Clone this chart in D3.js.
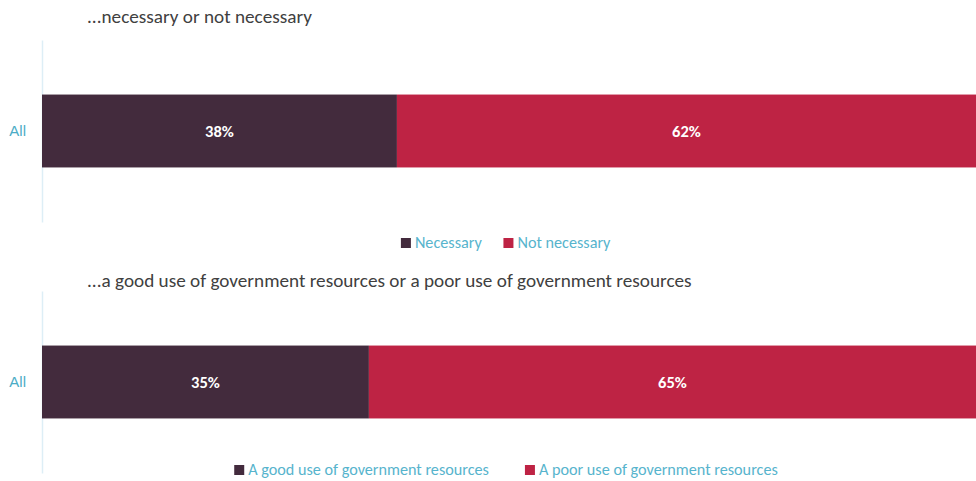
<!DOCTYPE html>
<html>
<head>
<meta charset="utf-8">
<script src="https://cdn.jsdelivr.net/npm/d3@7"></script>
<style>
  html, body { margin: 0; padding: 0; background: #fff; }
  svg { display: block; font-family: Carlito, Lato, "Open Sans", sans-serif; }
</style>
</head>
<body>
<svg id="chart" width="976" height="481"></svg>
<script>
// Survey results: share of respondents per answer
const categories = ["All"];

const titleNecessary = "...necessary or not necessary";
const seriesNecessary = ["Necessary", "Not necessary"];
const valuesNecessary = [38, 62];

const titleResources = "...a good use of government resources or a poor use of government resources";
const seriesResources = ["A good use of government resources", "A poor use of government resources"];
const valuesResources = [35, 65];

const colors = ["#432b3d", "#be2344"];

const svg = d3.select("#chart");
const W = 976;
const x = d3.scaleLinear().domain([0, 100]).range([42, W]);
const color = d3.scaleOrdinal().domain([0, 1]).range(colors);

function panel(opts) {
  const { title, series, values, top, bottom, titleY, legendY, legendGap } = opts;
  const g = svg.append("g");

  g.append("text")
    .attr("x", 87).attr("y", titleY)
    .attr("fill", "#404040")
    .attr("font-size", 19.2)
    .text(title);

  const y = d3.scaleBand().domain(categories).range([top, bottom]).padding(0.428);

  // category axis
  const ax = g.append("g")
    .attr("transform", `translate(${x(0)},0)`)
    .call(d3.axisLeft(y).tickSize(0).tickPadding(16));
  ax.select(".domain").attr("stroke", "#ddeef6").attr("stroke-width", 1.5);
  ax.selectAll("text")
    .attr("fill", "#4bacc6")
    .attr("font-size", 15)
    .style("font-family", "inherit");

  // stacked segments
  let acc = 0;
  const segs = values.map((v, i) => {
    const s = { i, v, x0: acc, x1: acc + v };
    acc += v;
    return s;
  });

  categories.forEach(cat => {
    g.selectAll(null).data(segs).join("rect")
      .attr("x", d => x(d.x0))
      .attr("y", y(cat))
      .attr("width", d => x(d.x1) - x(d.x0))
      .attr("height", y.bandwidth())
      .attr("fill", d => color(d.i));

    g.selectAll(null).data(segs).join("text")
      .attr("x", d => (x(d.x0) + x(d.x1)) / 2)
      .attr("y", y(cat) + y.bandwidth() / 2)
      .attr("dy", "0.35em")
      .attr("text-anchor", "middle")
      .attr("fill", "#ffffff")
      .attr("font-size", 16.5)
      .attr("font-weight", "bold")
      .text(d => d.v + "%");
  });

  // legend, centered under the plot
  const lg = g.append("g");
  const items = lg.selectAll("g").data(series).join("g");
  items.append("rect")
    .attr("width", 10).attr("height", 10)
    .attr("y", -5)
    .attr("fill", (d, i) => color(i));
  items.append("text")
    .attr("x", 14).attr("dy", "0.33em")
    .attr("fill", "#57b4cd")
    .attr("font-size", 16.2)
    .text(d => d);
  let off = 0;
  items.each(function () {
    d3.select(this).attr("transform", `translate(${off},0)`);
    off += this.getBBox().width + legendGap;
  });
  const total = off - legendGap;
  lg.attr("transform", `translate(${(x(0) + x(100)) / 2 - 3 - total / 2},${legendY})`);
}

panel({ title: titleNecessary, series: seriesNecessary, values: valuesNecessary,
        top: 40, bottom: 222, titleY: 23, legendY: 243, legendGap: 21 });
panel({ title: titleResources, series: seriesResources, values: valuesResources,
        top: 291, bottom: 473, titleY: 287, legendY: 470, legendGap: 36 });
</script>
</body>
</html>
